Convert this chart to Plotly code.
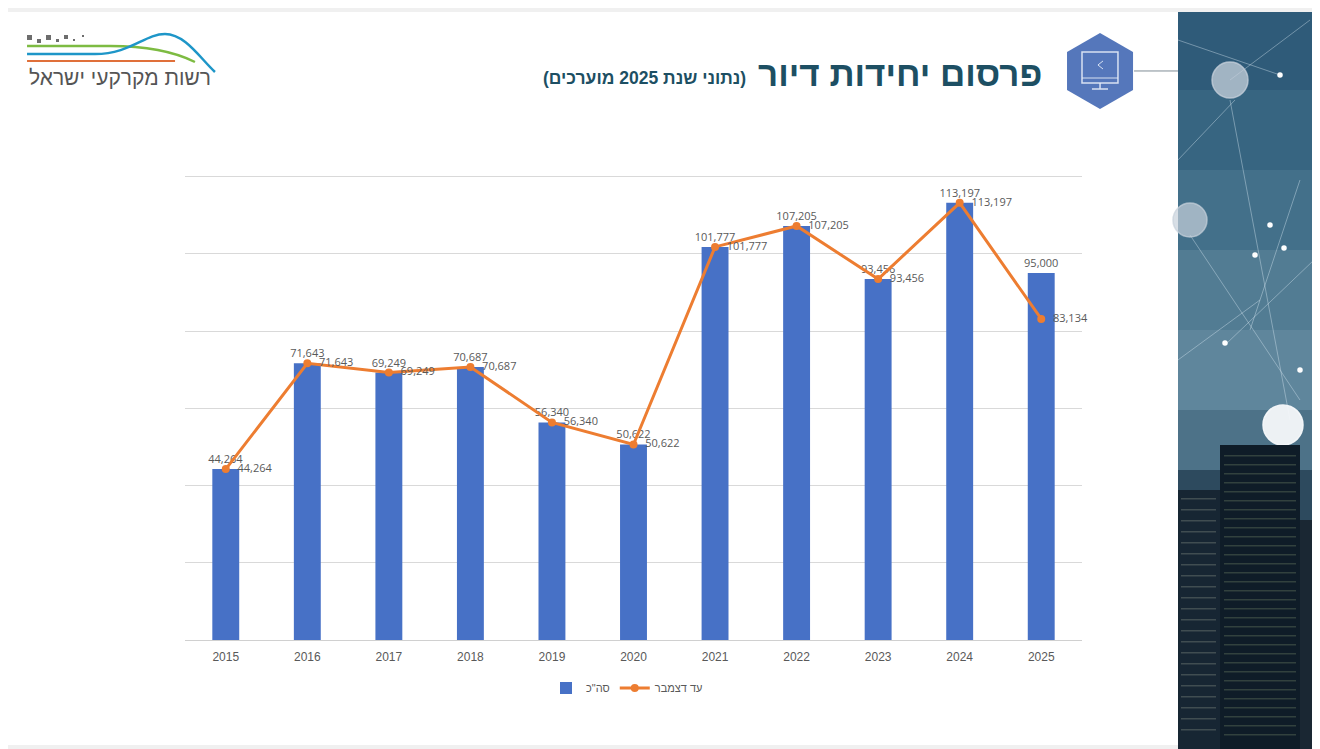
import plotly.graph_objects as go

# data
years = ["2015", "2016", "2017", "2018", "2019", "2020",
         "2021", "2022", "2023", "2024", "2025"]
total_units = [44264, 71643, 69249, 70687, 56340, 50622,
               101777, 107205, 93456, 113197, 95000]
until_december = [44264, 71643, 69249, 70687, 56340, 50622,
                  101777, 107205, 93456, 113197, 83134]

OFF = 8                      # the page puts the figure 8px in from the corner
W, H = 1320 - OFF, 749 - OFF
L, R, T, B = 185, 1082, 175, 640   # plot area in page pixels


def px(x):
    return (x - L) / (R - L)


def py(y):
    return (B - y) / (B - T)


def pt(x, y):
    return f"{px(x):.4f},{py(y):.4f}"


def rect(x0, y0, x1, y1, color, **kw):
    return dict(type="rect", xref="paper", yref="paper",
                x0=px(x0), x1=px(x1), y0=py(y1), y1=py(y0),
                fillcolor=color, line_width=0, layer="below", **kw)


def path(points, color, width=2, fill=None, closed=False):
    d = "M " + " L ".join(pt(a, b) for a, b in points)
    if closed:
        d += " Z"
    return dict(type="path", xref="paper", yref="paper", path=d,
                line=dict(color=color, width=width),
                fillcolor=fill if fill else "rgba(0,0,0,0)", layer="below")


def curve(d, color, width=2.5):
    return dict(type="path", xref="paper", yref="paper", path=d,
                line=dict(color=color, width=width),
                fillcolor="rgba(0,0,0,0)", layer="below")


def circle(cx, cy, r, color, line=None):
    return dict(type="circle", xref="paper", yref="paper",
                x0=px(cx - r), x1=px(cx + r), y0=py(cy + r), y1=py(cy - r),
                fillcolor=color, line=dict(color=line or color, width=1.5),
                layer="below")


fig = go.Figure()
fig.add_trace(go.Bar(
    x=years, y=total_units,
    name='סה"כ',
    marker=dict(color="#4771C6", line_width=0),
    width=0.33,
    text=total_units, texttemplate="%{y:,}", textposition="outside",
    constraintext="none",
    textfont=dict(color="#595959", size=11, family="Open Sans"),
    cliponaxis=False,
))
fig.add_trace(go.Scatter(
    x=years, y=until_december,
    name="עד דצמבר",
    mode="lines+markers+text",
    line=dict(color="#ED7D31", width=3),
    marker=dict(color="#ED7D31", size=8),
    text=until_december, texttemplate="\u00a0\u00a0%{y:,}",
    textposition="middle right",
    textfont=dict(color="#595959", size=11, family="Open Sans"),
    cliponaxis=False,
))

shapes = []
# white slide on grey page
shapes.append(rect(5, 12, 1178, 745, "white"))

# right-hand picture panel, rough banded approximation
bands = [(12, 90, "#2f5b79"), (90, 170, "#376581"), (170, 250, "#43708a"),
         (250, 330, "#527c93"), (330, 410, "#5f869c"), (410, 470, "#4d7288"),
         (470, 540, "#2d4a5e"), (540, 620, "#1b2e3d"), (620, 749, "#111d28")]
for y0, y1, c in bands:
    shapes.append(rect(1178, y0, 1314, y1, c))
# network lines
for a, b in [((1178, 40), (1280, 75)), ((1230, 100), (1290, 420)),
             ((1190, 235), (1300, 400)), ((1250, 330), (1300, 180)),
             ((1178, 360), (1260, 300)), ((1230, 80), (1310, 20)),
             ((1178, 160), (1235, 100)), ((1225, 345), (1314, 260))]:
    shapes.append(path([a, b], "rgba(220,235,245,0.4)", width=1))
shapes.append(circle(1230, 80, 18, "rgba(200,210,220,0.75)"))
shapes.append(circle(1190, 220, 17, "rgba(200,210,220,0.7)"))
shapes.append(circle(1283, 425, 20, "rgba(245,248,250,0.95)"))
for cx, cy in [(1270, 225), (1255, 255), (1284, 248), (1225, 343), (1300, 370), (1280, 75)]:
    shapes.append(circle(cx, cy, 2, "white"))
# towers with lights
shapes.append(rect(1178, 490, 1220, 749, "#172633"))
for yy in range(498, 740, 11):
    shapes.append(rect(1181, yy, 1216, yy + 1.5, "rgba(215,220,190,0.22)"))
shapes.append(rect(1220, 445, 1300, 749, "#0f1c28"))
for yy in range(455, 740, 9):
    shapes.append(rect(1224, yy, 1296, yy + 1.5, "rgba(190,215,150,0.2)"))
shapes.append(rect(1300, 520, 1314, 749, "#1a2733"))

# hexagon icon and connector line
shapes.append(path([(1134, 71), (1178, 71)], "#7f8c95", width=1))
shapes.append(path([(1100, 33), (1133, 52), (1133, 90), (1100, 109),
                    (1067, 90), (1067, 52)], "#5577BB", width=0,
                   fill="#5577BB", closed=True))
shapes.append(path([(1082, 52), (1118, 52), (1118, 83), (1082, 83)],
                   "rgba(230,236,248,0.9)", width=1.5, closed=True))
shapes.append(path([(1082, 78), (1118, 78)], "rgba(230,236,248,0.9)", width=1))
shapes.append(path([(1100, 83), (1100, 89), (1092, 89), (1108, 89)],
                   "rgba(230,236,248,0.9)", width=1.5))
shapes.append(path([(1103, 61), (1098, 65), (1103, 69)],
                   "rgba(230,236,248,0.9)", width=1))

# logo
for i, (x, s) in enumerate([(27, 5), (37, 4), (46, 5), (56, 3), (64, 4), (73, 2), (82, 2)]):
    yy = 35 if i % 2 == 0 else 39
    shapes.append(rect(x, yy, x + s, yy + s, "#6d6d6d"))
shapes.append(curve(f"M {pt(27, 46)} L {pt(110, 46)} C {pt(150, 46)} {pt(175, 52)} {pt(195, 62)}",
                    "#7dbb42"))
shapes.append(curve(f"M {pt(27, 54)} L {pt(95, 54)} C {pt(130, 54)} {pt(145, 34)} {pt(165, 34)}"
                    f" C {pt(185, 34)} {pt(200, 58)} {pt(215, 72)}", "#1e96c8"))
shapes.append(curve(f"M {pt(27, 61)} L {pt(175, 61)}", "#e0703a", width=2))

fig.update_layout(
    width=W, height=H,
    margin=dict(l=L - OFF, r=W - (R - OFF), t=T - OFF, b=H - (B - OFF), pad=0),
    paper_bgcolor="#f0f0f0",
    plot_bgcolor="white",
    shapes=shapes,
    showlegend=True,
    legend=dict(orientation="h", x=px(627), xanchor="center", y=py(688),
                yanchor="middle", font=dict(size=11, color="#595959",
                                            family="Liberation Sans"),
                bgcolor="rgba(0,0,0,0)"),
    xaxis=dict(range=[-0.5, len(years) - 0.5], showgrid=False, showline=True,
               linecolor="#d0d0d0", ticks="", ticklabelstandoff=6,
               tickfont=dict(size=12, color="#595959", family="Liberation Sans")),
    yaxis=dict(range=[0, 120400], tickvals=[20000, 40000, 60000, 80000, 100000, 120000],
               showticklabels=False, gridcolor="#d9d9d9", zeroline=False),
    bargap=0.67,
    annotations=[
        dict(text="<b>פרסום יחידות דיור</b>", xref="paper", yref="paper",
             x=px(1044), y=py(73), xanchor="right", yanchor="middle",
             showarrow=False, font=dict(size=35, color="#1d4f63",
                                        family="Liberation Sans")),
        dict(text="<b>\u200F(נתוני שנת 2025 מוערכים)\u200F</b>", xref="paper",
             yref="paper", x=px(748), y=py(78), xanchor="right",
             yanchor="middle", showarrow=False,
             font=dict(size=17.5, color="#1d4f63", family="Liberation Sans")),
        dict(text="רשות מקרקעי ישראל", xref="paper", yref="paper",
             x=px(213), y=py(77), xanchor="right", yanchor="middle",
             showarrow=False, font=dict(size=21, color="#555555",
                                        family="Liberation Sans")),
    ],
)

fig.write_html("out.html")
